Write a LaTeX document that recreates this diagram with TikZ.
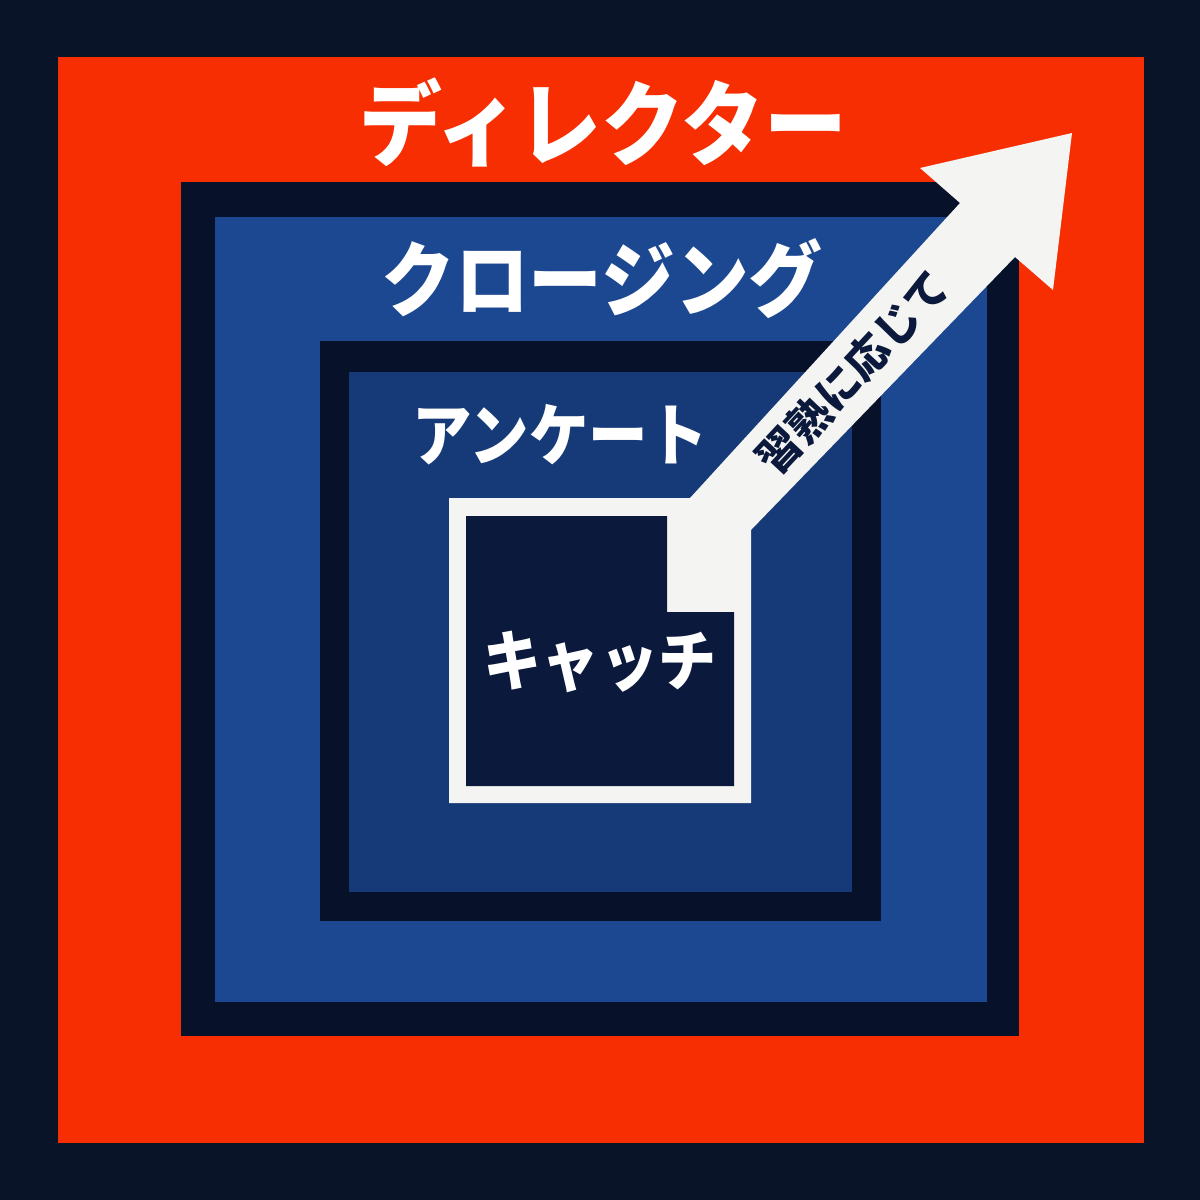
\documentclass[tikz,border=0pt]{standalone}
\usepackage{fontspec}
\newfontfamily\cjk{Noto Sans CJK JP}
\definecolor{bgnavy}{HTML}{0A1429}
\definecolor{redc}{HTML}{F62E02}
\definecolor{framec}{HTML}{07122A}
\definecolor{blueA}{HTML}{1B4890}
\definecolor{blueB}{HTML}{163A78}
\definecolor{corec}{HTML}{0B1A3C}
\definecolor{paper}{HTML}{F4F4F2}
\tikzset{
  label/.style={text=white, inner sep=0pt, font=\cjk\bfseries},
  bandtext/.style={text=corec, inner sep=0pt, font=\cjk\bfseries\fontsize{21.5pt}{21.5pt}\selectfont}
}
\begin{document}
\begin{tikzpicture}[x=0.5pt,y=-0.5pt]
\fill[bgnavy] (0,0) rectangle (1200,1200);
\useasboundingbox (0,0) rectangle (1200,1200);
% nested squares
\fill[redc] (58,57) rectangle (1144,1143);
\fill[framec] (181,182) rectangle (1019,1036);
\fill[blueA] (215,217) rectangle (987,1002);
\fill[framec] (320,341) rectangle (881,921);
\fill[blueB] (349,372) rectangle (852,892);
% white frame with arrow
\fill[paper] (449,498) -- (690,498) -- (960,203) -- (920,168) -- (1072,133)
  -- (1053,290) -- (1015,257) -- (751,530) -- (751,803) -- (449,803) -- cycle;
\fill[corec] (466,516) -- (667,516) -- (667,612) -- (734,612) -- (734,786) -- (466,786) -- cycle;
% labels
\node[label, font=\cjk\bfseries\fontsize{46pt}{46pt}\selectfont] (director) at (603,122) {\scalebox{0.9}[1]{ディレクター}};
\node[label, font=\cjk\bfseries\fontsize{41pt}{41pt}\selectfont] (closing) at (602,279) {\scalebox{0.9}[1]{クロージング}};
\node[label, font=\cjk\bfseries\fontsize{34pt}{34pt}\selectfont] (survey) at (560,435) {\scalebox{0.875}[1]{アンケート}};
\node[label, font=\cjk\bfseries\fontsize{33pt}{33pt}\selectfont] (catch) at (600,662) {\scalebox{0.88}[1]{キャッチ}};
\node[bandtext, rotate=47] (mastery) at (853,372) {習熟に応じて};
\end{tikzpicture}
\end{document}
